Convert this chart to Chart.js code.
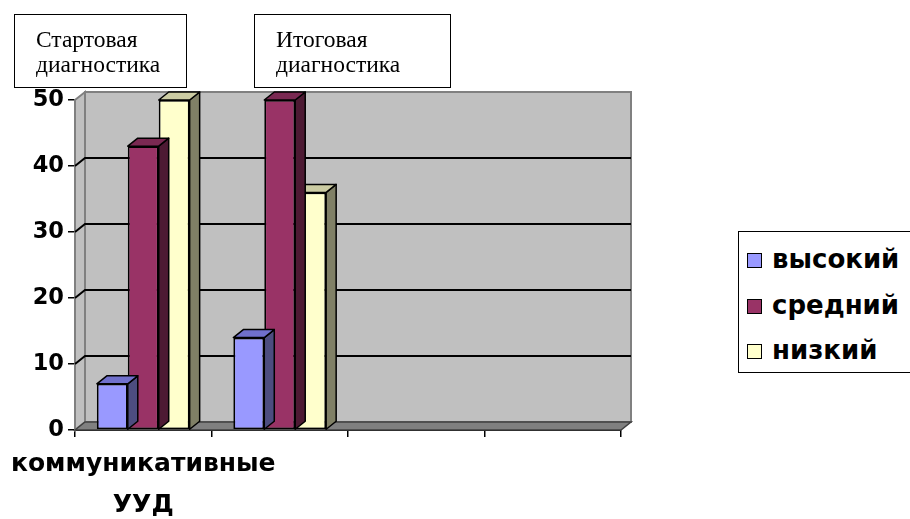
<!DOCTYPE html>
<html>
<head>
<meta charset="utf-8">
<script src="https://cdn.jsdelivr.net/npm/chart.js@4/dist/chart.umd.min.js"></script>
<style>
  html, body { margin:0; padding:0; background:#fff; overflow:hidden; }
  #wrap { position:relative; width:910px; height:519px; }
  canvas { position:absolute; left:0; top:0; }
  .note { position:absolute; top:14px; height:72px; border:1.5px solid #000; background:#fff;
          font-family:'Liberation Serif','Times New Roman',serif; font-size:23.5px; line-height:25px;
          color:#000; box-sizing:content-box; }
  .note span { position:absolute; left:21px; top:12px; white-space:nowrap; }
  #legend { position:absolute; left:738px; top:231px; width:200px; height:140px; border:1.5px solid #000;
            background:#fff; font-family:'DejaVu Sans','Liberation Sans',sans-serif; font-weight:bold; font-size:26px; color:#000; }
  .li { position:absolute; left:8px; height:30px; line-height:30px; white-space:nowrap; }
  .sw { display:inline-block; width:13px; height:13px; border:1.5px solid #000; margin-right:10px; vertical-align:0px; }
</style>
</head>
<body>
<div id="wrap">
  <canvas id="c" width="910" height="519"></canvas>
  <div class="note" style="left:14px;width:171px;"><span id="n0"></span></div>
  <div class="note" style="left:254px;width:195px;"><span id="n1"></span></div>
  <div id="legend"></div>
</div>
<script>
// ---- data ----
const categories = [['коммуникативные', 'УУД'], '', '', ''];
const seriesNames = ['высокий', 'средний', 'низкий'];
const highValues = [7, 14, null, null];
const midValues = [43, 50, null, null];
const lowValues = [50, 36, null, null];
const yTicks = [0, 10, 20, 30, 40, 50];
const noteLabels = [['Стартовая', 'диагностика'], ['Итоговая', 'диагностика']];

// ---- styles ----
const frontColors = ['#9999FF', '#993366', '#FFFFCC'];
const topColors = ['#7070CC', '#7A2952', '#CCCCA3'];
const sideColors = ['#4D4D80', '#4D1A33', '#808066'];
const DX = 10, DY = -8;

const wallPlugin = {
  id: 'walls',
  beforeDatasetsDraw(chart) {
    const ctx = chart.ctx;
    const { left, right, top, bottom } = chart.chartArea;
    const ys = chart.scales.y;
    ctx.save();
    ctx.fillStyle = '#C0C0C0';
    ctx.strokeStyle = '#808080';
    ctx.lineWidth = 2;
    ctx.fillRect(left + DX, top + DY, right - left, bottom - top);
    ctx.strokeRect(left + DX, top + DY, right - left, bottom - top);
    ctx.beginPath();
    ctx.moveTo(left, top); ctx.lineTo(left + DX, top + DY);
    ctx.lineTo(left + DX, bottom + DY); ctx.lineTo(left, bottom); ctx.closePath();
    ctx.fillStyle = '#C0C0C0'; ctx.fill(); ctx.stroke();
    ctx.beginPath();
    ctx.moveTo(left, bottom); ctx.lineTo(left + DX, bottom + DY);
    ctx.lineTo(right + DX, bottom + DY); ctx.lineTo(right, bottom); ctx.closePath();
    ctx.fillStyle = '#808080'; ctx.fill();
    ctx.strokeStyle = '#404040'; ctx.lineWidth = 1.5; ctx.stroke();
    ctx.strokeStyle = '#000';
    ctx.lineWidth = 2;
    yTicks.forEach(v => {
      if (v === yTicks[0] || v === yTicks[yTicks.length - 1]) return;
      const y = ys.getPixelForValue(v);
      ctx.beginPath();
      ctx.moveTo(left, y); ctx.lineTo(left + DX, y + DY); ctx.lineTo(right + DX, y + DY);
      ctx.stroke();
    });
    ctx.restore();
  },
  afterDatasetDraw(chart, args) {
    const ctx = chart.ctx;
    const i = args.index;
    ctx.save();
    ctx.strokeStyle = '#000';
    ctx.lineWidth = 1.5;
    ctx.lineJoin = 'round';
    args.meta.data.forEach((el, k) => {
      const v = chart.data.datasets[i].data[k];
      if (v === null || v === undefined) return;
      const p = el.getProps(['x', 'y', 'base', 'width'], true);
      const l = p.x - p.width / 2, r = p.x + p.width / 2;
      ctx.beginPath();
      ctx.moveTo(r, p.y); ctx.lineTo(r + DX, p.y + DY);
      ctx.lineTo(r + DX, p.base + DY); ctx.lineTo(r, p.base); ctx.closePath();
      ctx.fillStyle = sideColors[i]; ctx.fill(); ctx.stroke();
      ctx.beginPath();
      ctx.moveTo(l, p.y); ctx.lineTo(l + DX, p.y + DY);
      ctx.lineTo(r + DX, p.y + DY); ctx.lineTo(r, p.y); ctx.closePath();
      ctx.fillStyle = topColors[i]; ctx.fill(); ctx.stroke();
    });
    ctx.restore();
  }
};

const chart = new Chart(document.getElementById('c'), {
  type: 'bar',
  data: {
    labels: categories,
    datasets: [highValues, midValues, lowValues].map((d, i) => ({
      label: seriesNames[i],
      data: d,
      backgroundColor: frontColors[i],
      borderColor: '#000',
      borderWidth: 1.8,
      borderSkipped: false,
      categoryPercentage: 0.68,
      barPercentage: 1.0
    }))
  },
  options: {
    responsive: false,
    animation: false,
    devicePixelRatio: 1,
    layout: { padding: { top: 100, right: 289, left: 0, bottom: 0 } },
    plugins: { legend: { display: false }, tooltip: { enabled: false }, title: { display: false } },
    scales: {
      x: {
        afterFit(s) { s.height = 89; s.paddingLeft = 0; s.paddingRight = 0; },
        grid: { display: true, offset: true, drawOnChartArea: false, drawTicks: true, tickLength: 7, color: '#000', lineWidth: 1.5 },
        border: { display: true, color: '#000', width: 2 },
        ticks: { color: '#000', padding: 7, maxRotation: 0, autoSkip: false,
                 font: { family: "'DejaVu Sans', 'Liberation Sans', sans-serif", weight: 'bold', size: 25, lineHeight: 1.64 } }
      },
      y: {
        min: 0, max: 50,
        afterFit(s) { s.width = 75; s.paddingTop = 0; s.paddingBottom = 0; },
        afterBuildTicks(s) { s.ticks = yTicks.map(v => ({ value: v })); },
        grid: { display: true, drawOnChartArea: false, drawTicks: true, tickLength: 7, color: '#000', lineWidth: 1.5 },
        border: { display: true, color: '#404040', width: 1.5 },
        ticks: { color: '#000', padding: 4,
                 font: { family: "'DejaVu Sans', 'Liberation Sans', sans-serif", weight: 'bold', size: 22.5 } }
      }
    }
  },
  plugins: [wallPlugin]
});

noteLabels.forEach((lines, i) => {
  document.getElementById('n' + i).innerHTML = lines.join('<br>');
});

const lg = document.getElementById('legend');
seriesNames.forEach((n, i) => {
  const d = document.createElement('div');
  d.className = 'li';
  d.style.top = (12 + i * 45.5) + 'px';
  d.innerHTML = '<span class="sw" style="background:' + frontColors[i] + '"></span>' + n;
  lg.appendChild(d);
});
</script>
</body>
</html>
